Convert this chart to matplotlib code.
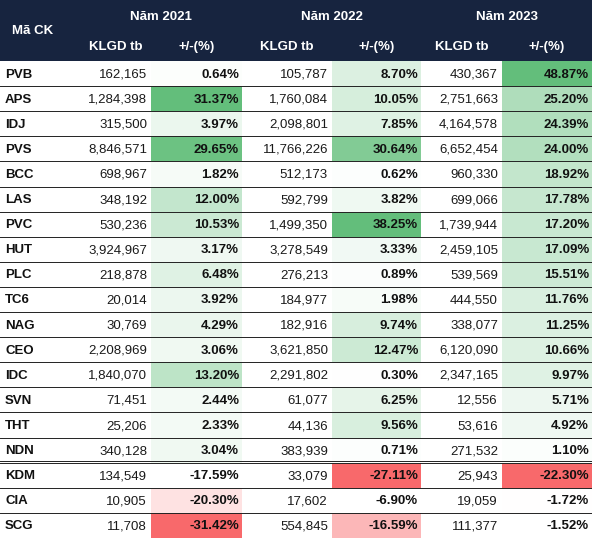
import matplotlib
matplotlib.use("Agg")
import matplotlib.pyplot as plt
from matplotlib.patches import Rectangle
import numpy as np

tickers = ["PVB","APS","IDJ","PVS","BCC","LAS","PVC","HUT","PLC","TC6","NAG","CEO","IDC","SVN","THT","NDN","KDM","CIA","SCG"]
vol2021 = [162165,1284398,315500,8846571,698967,348192,530236,3924967,218878,20014,30769,2208969,1840070,71451,25206,340128,134549,10905,11708]
chg2021 = [0.64,31.37,3.97,29.65,1.82,12.00,10.53,3.17,6.48,3.92,4.29,3.06,13.20,2.44,2.33,3.04,-17.59,-20.30,-31.42]
vol2022 = [105787,1760084,2098801,11766226,512173,592799,1499350,3278549,276213,184977,182916,3621850,2291802,61077,44136,383939,33079,17602,554845]
chg2022 = [8.70,10.05,7.85,30.64,0.62,3.82,38.25,3.33,0.89,1.98,9.74,12.47,0.30,6.25,9.56,0.71,-27.11,-6.90,-16.59]
vol2023 = [430367,2751663,4164578,6652454,960330,699066,1739944,2459105,539569,444550,338077,6120090,2347165,12556,53616,271532,25943,19059,111377]
chg2023 = [48.87,25.20,24.39,24.00,18.92,17.78,17.20,17.09,15.51,11.76,11.25,10.66,9.97,5.71,4.92,1.10,-22.30,-1.72,-1.52]
years = ["Năm 2021","Năm 2022","Năm 2023"]

plt.rcParams['font.family'] = ['Liberation Sans', 'DejaVu Sans']
W, H = 592, 538
fig = plt.figure(figsize=(W/100, H/100), dpi=100)
ax = fig.add_axes([0, 0, 1, 1])
ax.set_xlim(0, W); ax.set_ylim(H, 0); ax.axis('off')

navy = '#17243f'
hdr_h = 61
row_h = (H - hdr_h) / len(tickers)
cols = [0, 80, 151, 242, 332, 421, 502, 592]

ax.add_patch(Rectangle((0, 0), W, hdr_h, color=navy, lw=0))
ax.text(12, 31, "Mã CK", color='white', weight='bold', fontsize=9.5, va='center')
for i, y in enumerate(years):
    xc = (cols[1+2*i] + cols[3+2*i]) / 2
    ax.text(xc, 17, y, color='white', weight='bold', fontsize=9.5, ha='center', va='center')
    ax.text((cols[1+2*i]+cols[2+2*i])/2, 47, "KLGD tb", color='white', weight='bold', fontsize=9.5, ha='center', va='center')
    ax.text((cols[2+2*i]+cols[3+2*i])/2, 47, "+/-(%)", color='white', weight='bold', fontsize=9.5, ha='center', va='center')

green = np.array([0x63, 0xbe, 0x7b]) / 255
red = np.array([0xf8, 0x69, 0x6b]) / 255
white = np.ones(3)

def colours(vals):
    v = np.array(vals)
    pos = v[v > 0]; neg = np.abs(v[v < 0])
    out = []
    for x in v:
        if x > 0:
            t = x / pos.max()
        else:
            a = abs(x)
            t = (a - neg.min()) / (neg.max() - neg.min()) if neg.max() > neg.min() else 1
            out.append(white + (red - white) * t); continue
        out.append(white + (green - white) * t)
    return out

vols = [vol2021, vol2022, vol2023]
chgs = [chg2021, chg2022, chg2023]
for j in range(3):
    cl = colours(chgs[j])
    for i in range(len(tickers)):
        y0 = hdr_h + i * row_h
        ax.add_patch(Rectangle((cols[2+2*j], y0), cols[3+2*j]-cols[2+2*j], row_h, color=cl[i], lw=0))
        yc = y0 + row_h/2 + 1
        ax.text(cols[2+2*j]-4, yc, f"{vols[j][i]:,}", fontsize=9.5, ha='right', va='center', color='#1a1a1a')
        ax.text(cols[3+2*j]-3, yc, f"{chgs[j][i]:.2f}%", fontsize=9.5, ha='right', va='center', weight='bold', color='#111111')

for i, t in enumerate(tickers):
    y0 = hdr_h + i * row_h
    ax.text(5, y0 + row_h/2 + 1, t, fontsize=9.5, weight='bold', va='center', color='#111111')
    ax.plot([0, W], [y0 + row_h, y0 + row_h], color='#222222', lw=0.7)
# double line before KDM
yd = hdr_h + 16 * row_h
ax.plot([0, W], [yd - 2, yd - 2], color='#222222', lw=0.7)

fig.savefig("out.png", dpi=100)
